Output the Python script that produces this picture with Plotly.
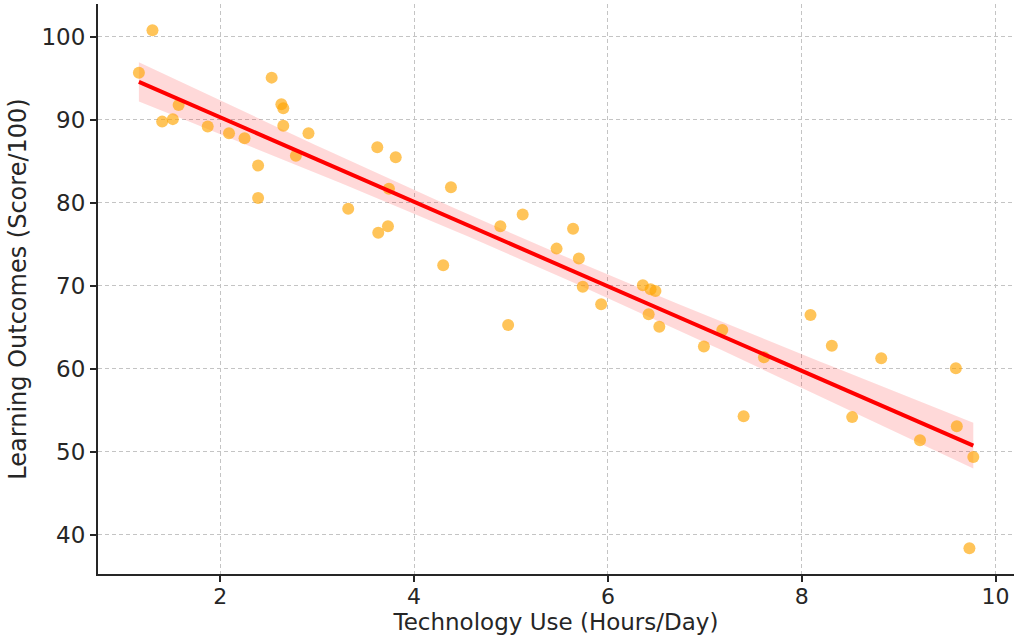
import numpy as np
import plotly.graph_objects as go

tech_hours = [1.16, 1.30, 1.40, 1.51, 1.57, 1.87, 2.09, 2.25, 2.39, 2.39,
              2.53, 2.63, 2.65, 2.65, 2.78, 2.91, 3.32, 3.62, 3.63, 3.73,
              3.74, 3.81, 4.30, 4.38, 4.89, 4.97, 5.12, 5.47, 5.64, 5.70,
              5.74, 5.93, 6.36, 6.42, 6.44, 6.49, 6.53, 6.99, 7.18, 7.40,
              7.61, 8.09, 8.31, 8.52, 8.82, 9.22, 9.59, 9.60, 9.77, 9.73]
scores = [95.7, 100.8, 89.8, 90.1, 91.8, 89.2, 88.4, 87.8, 84.5, 80.6,
          95.1, 91.9, 91.4, 89.3, 85.7, 88.4, 79.3, 86.7, 76.4, 77.2,
          81.7, 85.5, 72.5, 81.9, 77.2, 65.3, 78.6, 74.5, 76.9, 73.3,
          69.9, 67.8, 70.1, 66.6, 69.6, 69.4, 65.1, 62.7, 64.7, 54.3,
          61.4, 66.5, 62.8, 54.2, 61.3, 51.4, 60.1, 53.1, 49.4, 38.4]

x_ticks = [2, 4, 6, 8, 10]
y_ticks = [40, 50, 60, 70, 80, 90, 100]

x = np.array(tech_hours)
y = np.array(scores)
n = len(x)
slope, intercept = np.polyfit(x, y, 1)
xs = np.linspace(x.min(), x.max(), 100)
ys = intercept + slope * xs
resid = y - (intercept + slope * x)
s = np.sqrt(np.sum(resid ** 2) / (n - 2))
sxx = np.sum((x - x.mean()) ** 2)
se = s * np.sqrt(1.0 / n + (xs - x.mean()) ** 2 / sxx)
t = 2.0106
upper = ys + t * se
lower = ys - t * se

fig = go.Figure()
fig.add_trace(go.Scatter(
    x=np.concatenate([xs, xs[::-1]]), y=np.concatenate([upper, lower[::-1]]),
    fill="toself", fillcolor="rgba(255,0,0,0.15)", line=dict(width=0),
    mode="lines", hoverinfo="skip", showlegend=False))
fig.add_trace(go.Scatter(
    x=tech_hours, y=scores, mode="markers",
    marker=dict(color="rgba(255,165,0,0.65)", size=12, line=dict(width=0)),
    showlegend=False))
fig.add_trace(go.Scatter(
    x=xs, y=ys, mode="lines", line=dict(color="red", width=4),
    showlegend=False))

axis_common = dict(
    showgrid=True, gridcolor="#c4c4c4", griddash="4px,3px", gridwidth=1,
    showline=True, linecolor="#262626", linewidth=2,
    ticks="outside", ticklen=6, tickwidth=1.5, tickcolor="#262626",
    zeroline=False, mirror=False,
)

fig.update_layout(
    width=1017, height=640,
    margin=dict(l=98, r=3, t=4, b=66),
    paper_bgcolor="white", plot_bgcolor="white",
    font=dict(family="DejaVu Sans", color="#262626"),
    xaxis=dict(range=[0.738, 10.19], tickvals=x_ticks,
               tickfont=dict(family="DejaVu Sans", size=22, color="#262626"),
               title=dict(text="Technology Use (Hours/Day)", font=dict(size=23), standoff=2),
               **axis_common),
    yaxis=dict(range=[35.3, 103.97], tickvals=y_ticks,
               tickfont=dict(family="DejaVu Sans", size=23, color="#262626"),
               title=dict(text="Learning Outcomes (Score/100)", font=dict(size=24), standoff=8),
               **axis_common),
)
try:
    fig.update_xaxes(ticklabelstandoff=-4)
except Exception:
    pass

fig.write_html("out.html",
               config={"displayModeBar": False},
               post_script="document.body.style.margin='0';document.body.style.overflow='hidden';")
